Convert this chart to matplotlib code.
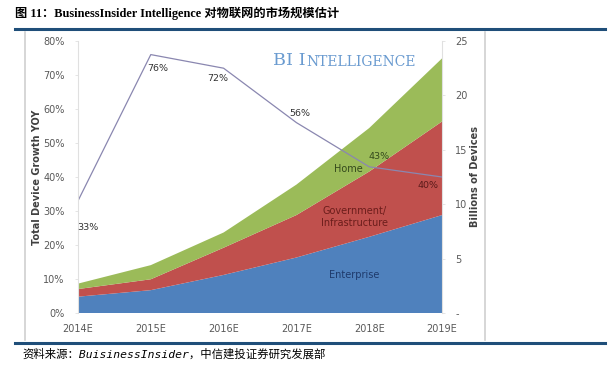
import numpy as np
import matplotlib.pyplot as plt
from matplotlib.lines import Line2D

# data
years = ['2014E', '2015E', '2016E', '2017E', '2018E', '2019E']
enterprise = [1.5, 2.1, 3.5, 5.1, 7.0, 9.0]
government = [0.7, 1.0, 2.5, 3.9, 6.0, 8.6]
home = [0.5, 1.3, 1.4, 2.8, 4.0, 5.8]
growth = [33, 76, 72, 56, 43, 40]
growth_labels = ['33%', '76%', '72%', '56%', '43%', '40%']

x = np.arange(len(years))

fig = plt.figure(figsize=(6.11, 3.69), dpi=100)
fig.patch.set_facecolor('white')

# title, rules and frame
fig.text(15 / 611, 1 - 13 / 369, '图 11：BusinessInsider Intelligence 对物联网的市场规模估计',
         family=['Liberation Serif', 'Noto Sans CJK SC'], fontweight='bold',
         fontsize=8.8, va='center', ha='left')
fig.add_artist(Line2D([15 / 611, 605 / 611], [1 - 29 / 369] * 2, color='#1f4e79', lw=2.2))
fig.add_artist(Line2D([15 / 611, 605 / 611], [1 - 343 / 369] * 2, color='#1f4e79', lw=2.2))
fig.add_artist(Line2D([25 / 611] * 2, [1 - 32 / 369, 1 - 340 / 369], color='#d0d0d0', lw=1.2))
fig.add_artist(Line2D([485 / 611] * 2, [1 - 32 / 369, 1 - 340 / 369], color='#d0d0d0', lw=1.2))
fig.text(22 / 611, 1 - 354 / 369, '资料来源：BuisinessInsider，中信建投证券研究发展部',
         family=['DejaVu Sans Mono', 'Noto Sans CJK SC'], style='italic',
         fontsize=8.2, va='center', ha='left')

# main axes: stacked areas on the right scale, growth line on the left scale
ax = fig.add_axes([78 / 611, 1 - 313 / 369, 364 / 611, 272 / 369])
ax2 = ax.twinx()

ax.stackplot(x, enterprise, government, home,
             colors=['#4f81bd', '#c0504d', '#9bbb59'], linewidth=0)
ax.set_xlim(0, 5)
ax.set_ylim(0, 25)
ax.yaxis.tick_right()
ax.yaxis.set_label_position('right')
ax.set_yticks([0, 5, 10, 15, 20, 25])
ax.set_yticklabels(['-', '5', '10', '15', '20', '25'])
ax.set_xticks(x)
ax.set_xticklabels(years)
ax.tick_params(axis='x', labelsize=7, colors='#595959', length=0, pad=8)
ax.tick_params(axis='y', labelsize=7, labelcolor='#595959', color='#e0e0e0',
               length=2.5, width=0.6, pad=7)
ax.set_ylabel('Billions of Devices', fontsize=7, fontweight='bold', color='#404040', labelpad=2)
for s in ['top', 'left', 'bottom']:
    ax.spines[s].set_visible(False)
ax.spines['right'].set_color('#e0e0e0')

ax.text(3.71, 13.2, 'Home', fontsize=7, color='#34491c', ha='center', va='center')
ax.text(3.8, 8.8, 'Government/\nInfrastructure', fontsize=7, color='#6b1d1b',
        ha='center', va='center', linespacing=1.2)
ax.text(3.8, 3.5, 'Enterprise', fontsize=7, color='#1f3a6b', ha='center', va='center')

# logo in small caps
t1 = ax.text(2.68, 22.4, 'BI I', family='DejaVu Serif', fontsize=12.6,
             color='#6a9bd0', ha='left', va='bottom')
ax.annotate('NTELLIGENCE', xy=(1, 0), xycoords=t1, xytext=(0.3, 0), textcoords='offset points',
            family='DejaVu Serif', fontsize=10, color='#6a9bd0', ha='left', va='bottom')

ax2.yaxis.tick_left()
ax2.yaxis.set_label_position('left')
ax2.plot(x, growth, color='#8a87b0', lw=0.9)
ax2.set_ylim(0, 80)
ax2.set_yticks(range(0, 81, 10))
ax2.set_yticklabels([f'{v}%' for v in range(0, 81, 10)])
ax2.tick_params(axis='y', labelsize=7, labelcolor='#595959', color='#e0e0e0',
                length=2.5, width=0.6, pad=7)
ax2.set_ylabel('Total Device Growth YOY', fontsize=7, fontweight='bold', color='#404040', labelpad=1)
for s in ['top', 'right', 'bottom']:
    ax2.spines[s].set_visible(False)
ax2.spines['left'].set_color('#e0e0e0')

label_colors = ['#333333', '#333333', '#333333', '#333333', '#34491c', '#5a1a1a']
offsets = [(0.14, -8), (0.09, -4), (-0.08, -3), (0.05, 2.8), (0.13, 2.9), (-0.19, -2.4)]
for xi, g, lab, c, (dx, dy) in zip(x, growth, growth_labels, label_colors, offsets):
    ax2.text(xi + dx, g + dy, lab, fontsize=6.8, color=c, ha='center', va='center')

fig.savefig('out.png', dpi=100)
